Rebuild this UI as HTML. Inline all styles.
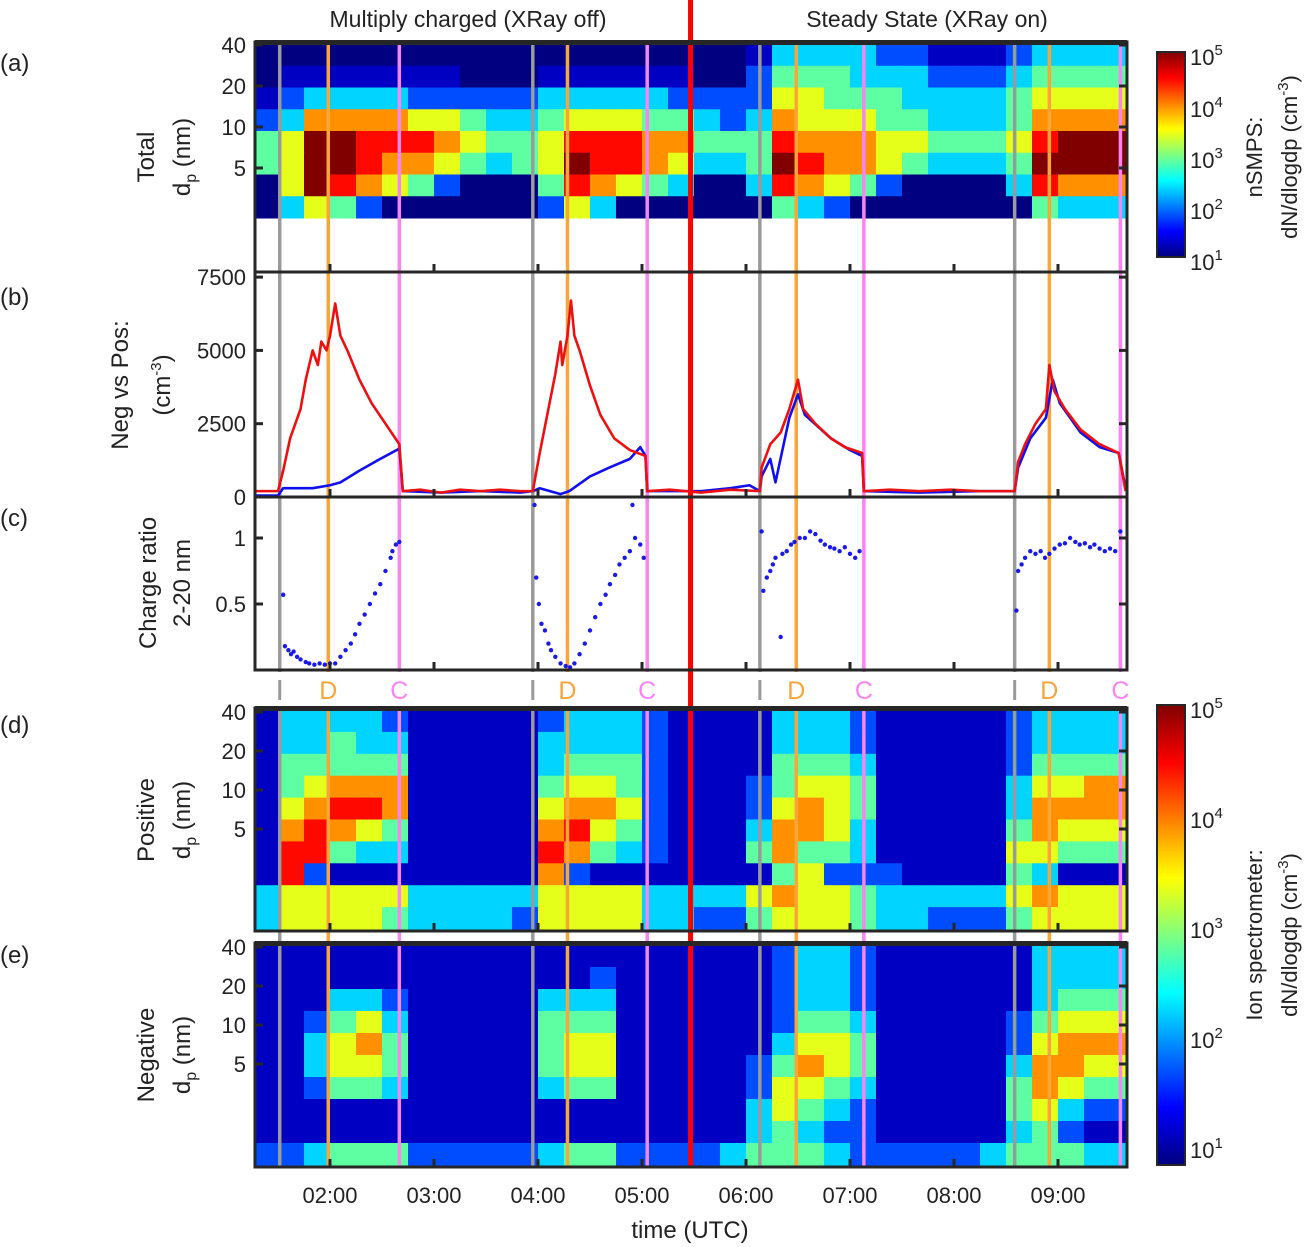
<!DOCTYPE html>
<html><head><meta charset="utf-8">
<style>
html,body{margin:0;padding:0;background:#fff;}
svg{display:block;font-family:"Liberation Sans",sans-serif;}
</style></head>
<body>
<svg id="fig" width="1310" height="1247" viewBox="0 0 1310 1247" xmlns="http://www.w3.org/2000/svg">
<defs>
<linearGradient id="jet" x1="0" y1="1" x2="0" y2="0">
<stop offset="0" stop-color="#000080"/><stop offset="0.125" stop-color="#0000ff"/>
<stop offset="0.375" stop-color="#00ffff"/><stop offset="0.625" stop-color="#ffff00"/>
<stop offset="0.875" stop-color="#ff0000"/><stop offset="1" stop-color="#800000"/>
</linearGradient>
</defs>
<g id="heat"></g>
<g id="lines"></g>
<g id="marks"></g>
<g id="frames"></g>
<g id="text" font-size="22" fill="#222"></g>
</svg>
<script>
// ---------- data ----------
const gridStartMin = 75;      // first heatmap column starts 01:15
const gridStepMin = 15;       // column width in minutes
const panelAHeat = [
"1111111111111111111244443322234444",
"1222222211122222211355544433345555",
"2344443333344444333366555444456666",
"3477776654456665543476665544457777",
"5699888765568887755587776655568999",
"5699877654569887644598776544459999",
"1698765311158765411487653111148777",
"0465310000036410000154310000015444"];
const panelDHeat = [
"2444432222234443222244432222234444",
"2445442222244443222244432222234444",
"2555552222245553222255542222235555",
"2567772222256653222356652222246677",
"2678872222267763222367652222247777",
"2787652222278653222477642222257666",
"2885442222287543222575542222266555",
"2832222222273222222256333222254222",
"4666664444466664444676654444467666",
"4666654444366664433566654433356666"];
const panelEHeat = [
"2222222222222222222234432222224444",
"2222222222222322222234432222224444",
"2224432222244422222234432222224555",
"2235642222255522222235542222235666",
"2246752222256622222246652222236777",
"2246652222256622222357652222247766",
"2235542222245522222366542222257655",
"2222222222222222222465432222256433",
"2222222222222222222454332222245322",
"3345553333345533334555433333455544"];
const grayTimes = [91, 237, 368, 515];
const orangeTimes = [119, 257, 389, 535];
const pinkTimes = [160, 303, 428, 576];
const splitTime = 328;
const hourTicks = [120,180,240,300,360,420,480,540];
const hourLabels = ["02:00","03:00","04:00","05:00","06:00","07:00","08:00","09:00"];
const redT = [76,90,93,97,103,106,110,113,115,118,120,123,126,130,137,144,152,160,162,172,184,195,207,218,230,237,241,246,250,253,254,257,259,261,264,270,276,284,293,302,303,316,334,351,368,369,374,380,385,390,393,400,409,417,427,428,443,460,478,495,515,517,521,527,533,535,538,544,553,564,575,579];
const redV = [200,200,900,2000,3000,4000,5000,4500,5300,5000,5500,6600,5500,5000,4000,3200,2500,1800,200,250,150,250,200,250,200,200,1500,3000,4200,5300,4500,5500,6700,5500,5000,3800,2800,2000,1600,1400,200,250,150,250,200,1000,1800,2200,3000,4000,3000,2500,2000,1700,1500,200,250,200,250,200,200,1200,1800,2500,3000,4500,3600,3000,2300,1800,1500,200];
const blueT = [76,90,93,110,120,126,137,149,160,162,184,207,230,237,241,253,258,270,281,293,299,302,303,334,351,362,368,369,374,377,385,390,394,409,420,427,428,460,495,515,517,524,533,537,541,553,564,575,579];
const blueV = [50,50,300,300,400,500,900,1300,1650,200,150,200,150,200,300,100,200,700,1000,1300,1700,1400,200,200,300,400,200,700,1300,500,2700,3500,2800,2000,1600,1400,200,150,200,200,1000,2000,2700,4000,3200,2200,1700,1500,300];
const ratioT = [93,94,96,97.5,99,101,103,106,108,111,114,117,120,123,126,129,132,134.5,137,140,143,146,149,152,155,156,158,160,
238,239,240.5,242,244,246,247.5,250,253,256,258.5,261,264,267,270,273,276,279,281.5,284.5,287,290,293,294.5,296,299,301,
369,370,372,374,375.5,377,380,381,383.5,386,388,391,394,397,400,403,405.5,408.5,411,414,417,420,423,425.5,
516,517,519,521,524,527,530,532.5,535,538,541,544,547,550,552.5,555.5,558.5,561,564,567,570,573,576];
const ratioV = [.57,.18,.15,.12,.14,.1,.08,.06,.05,.04,.05,.04,.05,.05,.1,.15,.2,.27,.35,.42,.5,.58,.65,.75,.85,.9,.95,.97,
1.25,.7,.5,.35,.3,.2,.15,.1,.05,.03,.02,.05,.12,.2,.3,.4,.5,.57,.65,.72,.8,.85,.9,1.25,1.0,.95,.85,
1.05,.6,.7,.75,.8,.85,.25,.88,.9,.95,.97,1.0,1.0,1.05,1.03,.98,.95,.93,.92,.9,.93,.88,.85,.9,
.45,.75,.8,.85,.9,.88,.9,.85,.88,.92,.95,.96,1.0,.97,.95,.96,.93,.95,.92,.9,.92,.9,1.05];
const sizeTicks = [40,20,10,5];
const countTicks = [0,2500,5000,7500];
const ratioTicks = [0.5,1];

// ---------- geometry ----------
const X0 = 255, X1 = 1127;
const xs = m => 330 + (m - 120) * 104 / 60;
const NS = "http://www.w3.org/2000/svg";
function mk(tag, attrs, parent) {
  const e = document.createElementNS(NS, tag);
  for (const k in attrs) e.setAttribute(k, attrs[k]);
  parent.appendChild(e);
  return e;
}
function jet(t) {
  const c = v => Math.max(0, Math.min(1, v));
  const r = c(1.5 - Math.abs(4*t - 3)), g = c(1.5 - Math.abs(4*t - 2)), b = c(1.5 - Math.abs(4*t - 1));
  return `rgb(${Math.round(r*255)},${Math.round(g*255)},${Math.round(b*255)})`;
}
const heat = document.getElementById('heat');
const linesG = document.getElementById('lines');
const marks = document.getElementById('marks');
const frames = document.getElementById('frames');
const txt = document.getElementById('text');

function drawHeat(grid, y0, y1, name) {
  const g = mk('g', {}, heat);
  
  
  mk('rect', {x: X0, y: y0, width: X1 - X0, height: y1 - y0, fill: '#000080'}, g);
  const rows = grid.length, rh = (y1 - y0) / rows;
  grid.forEach((row, r) => {
    row.split('').forEach((ch, c) => {
      const d = +ch;
      const t0 = gridStartMin + c * gridStepMin;
      let xa = Math.max(X0, xs(t0)), xb = Math.min(X1, xs(t0 + gridStepMin));
      if (xb <= xa) return;
      const cell = mk('rect', {x: xa, y: y0 + r*rh, width: xb - xa + 0.5, height: rh + 0.5, fill: jet(Math.max(0, d - 1.5) / 7.5)}, g);
      
      
    });
  });
}
drawHeat(panelAHeat, 44, 218, 'nsmps-heatmap');
drawHeat(panelDHeat, 710, 929, 'positive-ion-heatmap');
drawHeat(panelEHeat, 945, 1165, 'negative-ion-heatmap');

// event lines
function evLines(times, color, name) {
  times.forEach(t => {
    [[42, 672], [706, 1167]].forEach(([a, b]) => {
      const l = mk('line', {x1: xs(t), x2: xs(t), y1: a, y2: b, stroke: color, 'stroke-width': 3.5}, linesG);
      
      
    });
  });
}
evLines(grayTimes, '#9a9a9a', 'event-line-gray');
evLines(orangeTimes, '#f9a53a', 'event-line-orange');
evLines(pinkTimes, '#f984f4', 'event-line-pink');

// panel b lines
const yb = v => 497 - v * 73.3 / 2500;
function series(T, V, color, name) {
  const p = mk('polyline', {points: T.map((t, i) => xs(t) + ',' + yb(V[i])).join(' '), fill: 'none', stroke: color, 'stroke-width': 2.6, 'stroke-linejoin': 'round'}, marks);
  
  
}
series(blueT, blueV, '#1010ee', 'positive-count-line');
series(redT, redV, '#ee1010', 'negative-count-line');

// panel c dots
const yc = v => 670 - v * 132;
ratioT.forEach((t, i) => {
  const d = mk('circle', {cx: xs(t), cy: yc(ratioV[i]), r: 2.2, fill: '#1a1ae6'}, marks);
  
  
});

// split line
const sp = mk('line', {x1: xs(splitTime), x2: xs(splitTime), y1: 0, y2: 1167, stroke: '#ff0000', 'stroke-width': 5}, marks);



// frames
function frame(y0, y1, name) {
  const r = mk('rect', {x: X0, y: y0, width: X1 - X0, height: y1 - y0, fill: 'none', stroke: '#262626', 'stroke-width': 3}, frames);
  
  
  hourTicks.forEach(t => {
    mk('line', {x1: xs(t), x2: xs(t), y1: y1, y2: y1 - 8, stroke: '#262626', 'stroke-width': 3}, frames);
  });
}
mk('rect', {x: X0, y: 40, width: X1 - X0, height: 5, fill: '#262626'}, frames);
frame(42, 272, 'panel-a-frame');
frame(272, 497, 'panel-b-frame');
frame(497, 670, 'panel-c-frame');
mk('rect', {x: X0, y: 706, width: X1 - X0, height: 5, fill: '#262626'}, frames);
mk('rect', {x: X0, y: 941, width: X1 - X0, height: 5, fill: '#262626'}, frames);
frame(708, 931, 'panel-d-frame');
frame(943, 1167, 'panel-e-frame');

function T(x, y, s, opts = {}) {
  const e = mk('text', Object.assign({x: x, y: y}, opts), txt);
  e.innerHTML = s;
  return e;
}
function ytick(y, label, name) {
  mk('line', {x1: X0, x2: X0 + 8, y1: y, y2: y, stroke: '#262626', 'stroke-width': 3}, frames);
  mk('line', {x1: X1, x2: X1 - 8, y1: y, y2: y, stroke: '#262626', 'stroke-width': 3}, frames);
  const e = T(246, y + 8, label, {'text-anchor': 'end'});
  
  
}
const logY = (top40, dbl) => v => top40 + Math.log2(40 / v) * dbl;
const ya = logY(45, 41), yd = logY(712, 39), ye = logY(947, 39);
sizeTicks.forEach(v => { ytick(ya(v), v, 'a-ytick'); ytick(yd(v), v, 'd-ytick'); ytick(ye(v), v, 'e-ytick'); });
countTicks.forEach(v => ytick(yb(v), v, 'b-ytick'));
ratioTicks.forEach(v => ytick(yc(v), v, 'c-ytick'));

// x tick labels
hourTicks.forEach((t, i) => {
  const e = T(xs(t), 1203, hourLabels[i], {'text-anchor': 'middle'});
  
  
});
</script>
<script>
const tg = document.getElementById('text');
const add = (html) => { tg.insertAdjacentHTML('beforeend', html); };
add(`<text x="690" y="1238" text-anchor="middle" font-size="24">time (UTC)</text>`);
add(`<text x="468" y="27" text-anchor="middle" font-size="23">Multiply charged (XRay off)</text>`);
add(`<text x="927" y="27" text-anchor="middle" font-size="23">Steady State (XRay on)</text>`);
add(`<text x="0" y="71" font-size="24">(a)</text>`);
add(`<text x="0" y="305" font-size="24">(b)</text>`);
add(`<text x="0" y="526" font-size="24">(c)</text>`);
add(`<text x="0" y="733" font-size="24">(d)</text>`);
add(`<text x="0" y="963" font-size="24">(e)</text>`);
const ylab = (x, y, s, name) => add(`<text transform="translate(${x},${y}) rotate(-90)" text-anchor="middle" font-size="24">${s}</text>`);
const dp = `d<tspan font-size="16" dy="6">p</tspan><tspan dy="-6"> (nm)</tspan>`;
ylab(154, 157, 'Total', 'a-ylabel-1'); ylab(190, 157, dp, 'a-ylabel-2');
ylab(128, 385, 'Neg vs Pos:', 'b-ylabel-1'); ylab(170, 385, '(cm<tspan font-size="15" dy="-9">-3</tspan><tspan dy="9">)</tspan>', 'b-ylabel-2');
ylab(156, 583, 'Charge ratio', 'c-ylabel-1'); ylab(190, 583, '2-20 nm', 'c-ylabel-2');
ylab(154, 820, 'Positive', 'd-ylabel-1'); ylab(190, 820, dp, 'd-ylabel-2');
ylab(154, 1055, 'Negative', 'e-ylabel-1'); ylab(190, 1055, dp, 'e-ylabel-2');
const mx = m => 330 + (m - 120) * 104 / 60;
[91,237,368,515].forEach(t => add(`<rect x="${mx(t)-1.5}" y="680" width="3" height="20" fill="#9a9a9a"/>`));
[119,257,389,535].forEach(t => add(`<text x="${mx(t)}" y="699" text-anchor="middle" font-size="25" fill="#f9a53a">D</text>`));
[160,303,428,576].forEach(t => add(`<text x="${mx(t)}" y="699" text-anchor="middle" font-size="25" fill="#f984f4">C</text>`));
function cbar(y0, y1, yLabs, name, l1, ly) {
  add(`<rect x="1157" y="${y0}" width="28" height="${y1-y0}" fill="url(#jet)" stroke="#262626" stroke-width="2"/>`);
  yLabs.forEach((y, i) => add(`<text x="1190" y="${y+8}" font-size="22">10<tspan font-size="15" dy="-10">${5-i}</tspan></text>`));
  add(`<text transform="translate(1262,${ly}) rotate(-90)" text-anchor="middle" font-size="22">${l1}</text>`);
  add(`<text transform="translate(1297,${ly}) rotate(-90)" text-anchor="middle" font-size="22">dN/dlogdp (cm<tspan font-size="15" dy="-9">-3</tspan><tspan dy="9">)</tspan></text>`);
}
cbar(52, 257, [57,109,160,211,262], 'nsmps-colorbar', 'nSMPS:', 157);
cbar(705, 1165, [710,820,930,1040,1150], 'ion-colorbar', 'Ion spectrometer:', 935);
</script>
</body></html>
